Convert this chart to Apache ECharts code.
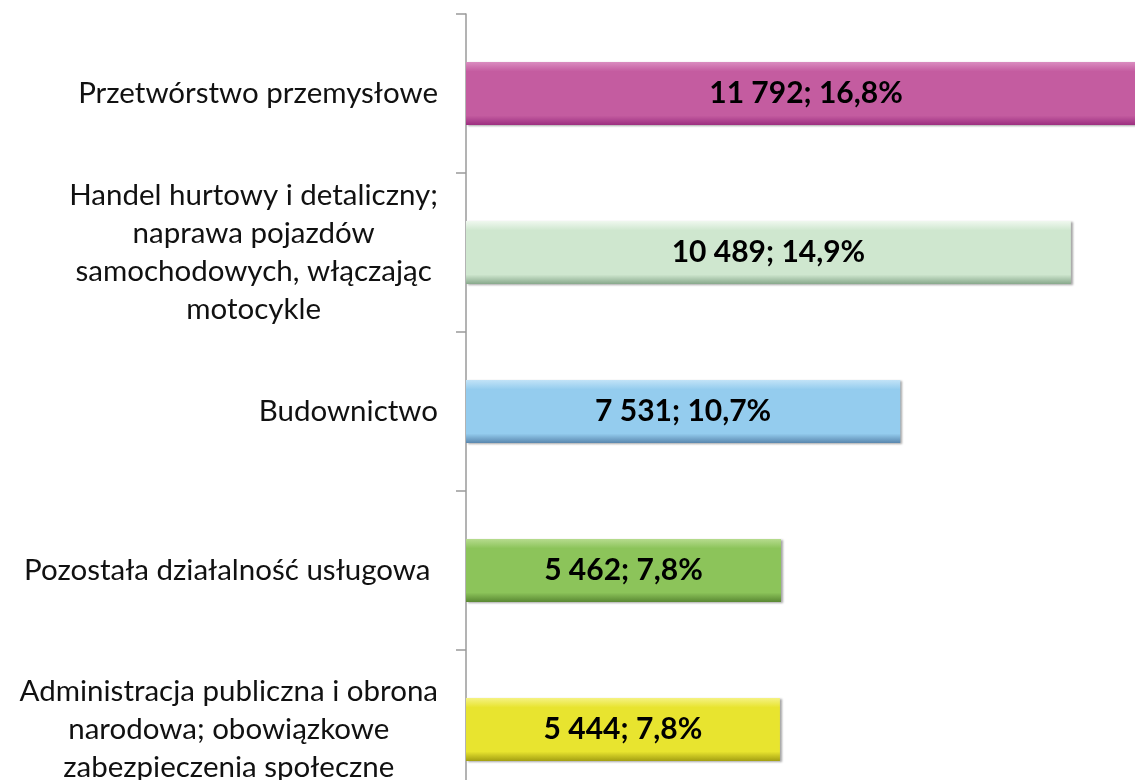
<!DOCTYPE html>
<html>
<head>
<meta charset="utf-8">
<style>
html,body{margin:0;padding:0;background:#fff;}
#chart{width:1135px;height:780px;}
</style>
<script src="https://cdn.jsdelivr.net/npm/echarts@6/dist/echarts.min.js"></script>
</head>
<body>
<div id="chart"></div>
<script>
var categories = [
  'Przetwórstwo przemysłowe',
  'Handel hurtowy i detaliczny;\nnaprawa pojazdów\nsamochodowych, włączając\nmotocykle',
  'Budownictwo',
  'Pozostała działalność usługowa ',
  'Administracja publiczna i obrona\nnarodowa; obowiązkowe\nzabezpieczenia społeczne'
];
var values = [11792, 10489, 7531, 5462, 5444];
var shares = [16.8, 14.9, 10.7, 7.8, 7.8];

var palette = [
  ['#DA8DC0', '#C45CA0', '#9C2F80'],
  ['#F0F8EF', '#CFE7CF', '#88A98C'],
  ['#C2E3F7', '#94CCEE', '#5A87AE'],
  ['#B6DB8E', '#8CC45A', '#5A8833'],
  ['#F5F283', '#E8E42F', '#A39F12']
];

function grad(c) {
  return new echarts.graphic.LinearGradient(0, 0, 0, 1, [
    {offset: 0, color: c[0]},
    {offset: 0.15, color: c[1]},
    {offset: 0.85, color: c[1]},
    {offset: 1, color: c[2]}
  ]);
}
function fmtNum(v) {
  return String(v).replace(/\B(?=(\d{3})+(?!\d))/g, ' ');
}

var seriesData = values.map(function (v, i) {
  return {value: v, itemStyle: {color: grad(palette[i])}};
});

var chart = echarts.init(document.getElementById('chart'));
chart.setOption({
  animation: false,
  backgroundColor: '#fff',
  grid: {left: 466, top: 14, width: 692, height: 795, containLabel: false, outerBoundsMode: 'none'},
  xAxis: {
    type: 'value', min: 0, max: 12000,
    show: false
  },
  yAxis: {
    type: 'category',
    inverse: true,
    data: categories,
    axisLine: {show: true, lineStyle: {color: '#9a9a9a', width: 1.5}},
    axisTick: {show: true, length: 10, alignWithLabel: false, lineStyle: {color: '#9a9a9a', width: 1.5}},
    axisLabel: {
      margin: 28,
      formatter: function (v) {
        return v.split('\n').map(function (l) { return '{a|' + l + '}'; }).join('\n');
      },
      rich: {
        a: {
          align: 'center',
          fontFamily: 'Lato, "Open Sans", sans-serif',
          fontSize: 29.5,
          lineHeight: 38,
          color: '#111'
        }
      }
    }
  },
  series: [{
    type: 'bar',
    data: seriesData,
    barWidth: 63,
    itemStyle: {shadowColor: 'rgba(0,0,0,0.35)', shadowBlur: 2, shadowOffsetX: 2, shadowOffsetY: 1},
    label: {
      show: true,
      position: 'inside',
      formatter: function (p) {
        return fmtNum(values[p.dataIndex]) + '; ' + shares[p.dataIndex].toFixed(1).replace('.', ',') + '%';
      },
      fontFamily: 'Lato, "Open Sans", sans-serif',
      fontWeight: 'bold',
      fontSize: 30,
      color: '#000'
    }
  }]
});
</script>
</body>
</html>
